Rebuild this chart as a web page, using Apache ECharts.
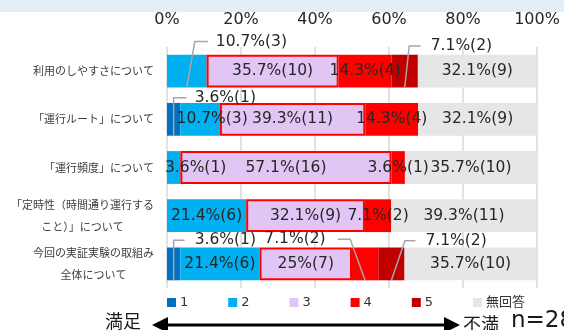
<!DOCTYPE html>
<html><head><meta charset="utf-8">
<script src="https://cdn.jsdelivr.net/npm/echarts@6/dist/echarts.min.js"></script>
<style>html,body{margin:0;padding:0;background:#fff}#c{width:564px;height:330px}</style>
</head><body><div id="c"></div>
<script>
// ---- data ----
const categories = [
  '利用のしやすさについて',
  '「運行ルート」について',
  '「運行頻度」について',
  '「定時性（時間通り運行する\nこと）」について',
  '今回の実証実験の取組み\n全体について'
];
const seriesNames = ['1', '2', '3', '4', '5', '無回答'];
const pct1  = [0,    3.6,  0,    0,    3.6];
const pct2  = [10.7, 10.7, 3.6,  21.4, 21.4];
const pct3  = [35.7, 39.3, 57.1, 32.1, 25];
const pct4  = [14.3, 14.3, 3.6,  7.1,  7.1];
const pct5  = [7.1,  0,    0,    0,    7.1];
const pctNA = [32.1, 32.1, 35.7, 39.3, 35.7];
const cnt1  = [0, 1, 0, 0, 1];
const cnt2  = [3, 3, 1, 6, 6];
const cnt3  = [10, 11, 16, 9, 7];
const cnt4  = [4, 4, 1, 2, 2];
const cnt5  = [2, 0, 0, 0, 2];
const cntNA = [9, 9, 10, 11, 10];
const xTicks = [0, 20, 40, 60, 80, 100];
const nTotal = 28;

// ---- styling ----
const pcts = [pct1, pct2, pct3, pct4, pct5, pctNA];
const cnts = [cnt1, cnt2, cnt3, cnt4, cnt5, cntNA];
const colors = ['#0070c0', '#00b0f0', '#e1c6f5', '#ff0000', '#c00000', '#e6e6e6'];
const BAR_RATIO = 0.68;
const LABEL_FONT = '15.5px "DejaVu Sans", "Noto Sans CJK JP", sans-serif';
// outside labels with leader lines: (row, series) + pixel geometry of the callout
const callouts = [
  {row: 0, ser: 1, cx: 8,   cy: -46,   len: 13,    gap: 8},
  {row: 0, ser: 4, cx: 4.5, cy: -41.5, len: 11.5,  gap: 10},
  {row: 1, ser: 0, cx: 0,   cy: -38,   len: 13,    gap: 8},
  {row: 4, ser: 0, cx: 0,   cy: -40,   len: 11,    gap: 10},
  {row: 4, ser: 3, cx: -15, cy: -41,   len: -12.5, gap: 12},
  {row: 4, ser: 4, cx: 13.5,cy: -39.5, len: 10.5,  gap: 10}
];
const labelShift = {'1-1': 12, '2-1': 22};

function fmtPct(p) { return String(Math.round(p * 10) / 10); }
function labelText(s, r) { return fmtPct(pcts[s][r]) + '%(' + cnts[s][r] + ')'; }
function isCallout(r, s) { return callouts.some(c => c.row === r && c.ser === s); }

const barSeries = seriesNames.map((name, s) => ({
  name: name,
  type: 'bar',
  stack: 'total',
  barWidth: (BAR_RATIO * 100) + '%',
  itemStyle: s === 2 ? {color: colors[s], borderColor: '#ff0000', borderWidth: 2} : {color: colors[s]},
  label: {
    show: true,
    position: 'inside',
    fontFamily: '"DejaVu Sans", "Noto Sans CJK JP", sans-serif',
    fontSize: 15.5,
    color: '#262626',
    formatter: (p) => (!pcts[s][p.dataIndex] || isCallout(p.dataIndex, s)) ? '' : labelText(s, p.dataIndex)
  },
  data: pcts[s].map((v, r) => {
    const k = r + '-' + s;
    return labelShift[k] ? {value: v, label: {offset: [labelShift[k], 0]}} : v;
  })
}));

const calloutData = callouts.map(c => {
  let start = 0;
  for (let i = 0; i < c.ser; i++) start += pcts[i][c.row];
  return [start + pcts[c.ser][c.row] / 2, c.row];
});

const calloutSeries = {
  type: 'custom',
  z: 5,
  silent: true,
  encode: {x: 0, y: 1},
  data: calloutData,
  renderItem: function (params, api) {
    const c = callouts[params.dataIndex];
    const p = api.coord([api.value(0), api.value(1)]);
    const band = api.size([0, 1])[1];
    const bx = p[0], by = p[1] + band * BAR_RATIO / 2;
    const kx = bx + c.cx, ky = by + c.cy;
    const ex = kx + c.len;
    const tx = ex + (c.len > 0 ? c.gap : -c.gap);
    return {
      type: 'group',
      children: [
        {type: 'polyline', shape: {points: [[bx, by], [kx, ky], [ex, ky]]},
         style: {stroke: '#a6a6a6', lineWidth: 1.5, fill: null}},
        {type: 'text', style: {text: labelText(c.ser, c.row), x: tx, y: ky,
         align: c.len > 0 ? 'left' : 'right', verticalAlign: 'middle',
         font: LABEL_FONT, fill: '#262626'}}
      ]
    };
  }
};

// one legend per entry so entries sit at even spacing
const legends = seriesNames.map((n, i) => ({
  data: [{name: n, itemStyle: {borderWidth: 0}}],
  left: 167 + i * 61.2, top: 296, icon: 'rect', itemWidth: 9, itemHeight: 9,
  itemGap: 0, selectedMode: false, padding: 0,
  textStyle: {fontSize: 13, color: '#333', padding: [0, 0, 0, -1],
    fontFamily: '"DejaVu Sans", "Noto Sans CJK JP", sans-serif'}
}));

const chart = echarts.init(document.getElementById('c'), null, {renderer: 'canvas'});
chart.setOption({
  animation: false,
  backgroundColor: '#ffffff',
  grid: {left: 167, right: 27, top: 47, bottom: 42, containLabel: false},
  xAxis: {
    type: 'value', position: 'top', min: xTicks[0], max: xTicks[xTicks.length - 1],
    interval: xTicks[1] - xTicks[0],
    axisLine: {show: false}, axisTick: {show: false},
    splitLine: {show: true, lineStyle: {color: '#d9d9d9', width: 1.5}},
    axisLabel: {formatter: '{value}%', margin: 19, fontSize: 16, color: '#262626',
      fontFamily: '"DejaVu Sans", sans-serif'}
  },
  yAxis: {
    type: 'category', inverse: true, data: categories,
    axisLine: {show: false}, axisTick: {show: false},
    axisLabel: {
      margin: 13, align: 'right',
      formatter: (v) => v.split('\n').map(l => '{c|' + l + '}').join('\n'),
      rich: {c: {align: 'center', fontSize: 11, lineHeight: 22, color: '#404040',
        fontFamily: '"Noto Sans CJK JP", sans-serif'}}
    }
  },
  legend: legends,
  graphic: [
    {type: 'rect', left: 0, top: 0, shape: {x: 0, y: 0, width: 564, height: 12}, style: {fill: '#e2eff9'}, z: -1},
    {type: 'text', x: 105, y: 321, style: {text: '満足', font: '18px "Noto Sans CJK JP", sans-serif', fill: '#1a1a1a', verticalAlign: 'middle'}},
    {type: 'line', shape: {x1: 160, y1: 325, x2: 452, y2: 325}, style: {stroke: '#000', lineWidth: 3}},
    {type: 'polygon', shape: {points: [[152, 325], [168, 317], [168, 333]]}, style: {fill: '#000'}},
    {type: 'polygon', shape: {points: [[460, 325], [444, 317], [444, 333]]}, style: {fill: '#000'}},
    {type: 'text', x: 463, y: 324.5, style: {text: '不満', font: '18px "Noto Sans CJK JP", sans-serif', fill: '#1a1a1a', verticalAlign: 'middle'}},
    {type: 'text', x: 511, y: 321, style: {text: 'n=' + nTotal, font: '23px "DejaVu Sans", sans-serif', fill: '#1a1a1a', verticalAlign: 'middle'}}
  ],
  series: barSeries.concat([calloutSeries])
});
</script>
</body></html>
